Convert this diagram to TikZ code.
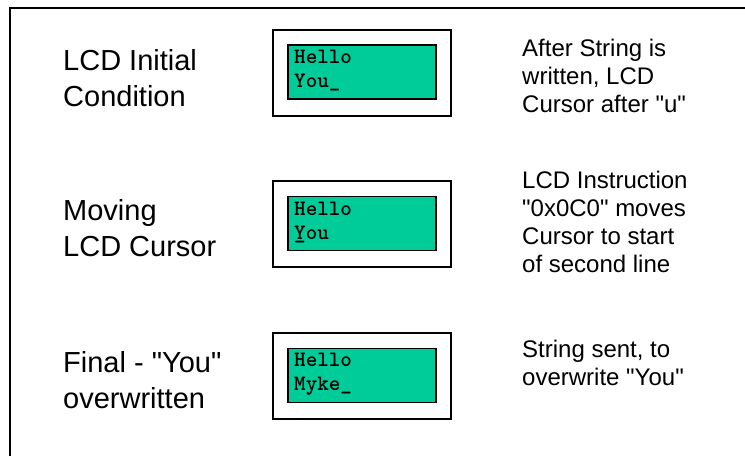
\documentclass[tikz,border=0pt]{standalone}
\usepackage{fontspec}
\setmainfont{Liberation Sans}[Ligatures=TeXOff]
\definecolor{lcdgreen}{HTML}{00CC99}
\tikzset{
  x=1pt, y=-1pt,
  outerbox/.style={draw=black, line width=1.5pt, fill=white, minimum width=178pt, minimum height=86pt, inner sep=0pt},
  lcdbox/.style={draw=black, line width=1.5pt, fill=lcdgreen, minimum width=148pt, minimum height=54pt, inner sep=0pt},
  lcdtext/.style={anchor=base west, inner sep=0pt, align=left, font=\ttfamily\bfseries\fontsize{22}{24}\selectfont},
  leftlabel/.style={anchor=base west, inner sep=0pt, align=left, font=\fontsize{29}{36}\selectfont},
  rightlabel/.style={anchor=base west, inner sep=0pt, align=left, font=\fontsize{24}{28}\selectfont},
}
\begin{document}
\begin{tikzpicture}
\useasboundingbox (0,0) rectangle (745,456);
\fill[white] (0,0) rectangle (745,456);
\draw[line width=2pt] (10,456) -- (10,8) -- (745,8);

% row 1
\node[outerbox] (o1) at (362,73) {};
\node[lcdbox] (g1) at (362,72) {};
\node[lcdtext] (t1) at (294,87) {Hello\\You\_};
\node[leftlabel] (l1) at (63,106) {LCD Initial\\Condition};
\node[rightlabel] (r1) at (522,112) {After String is\\written, LCD\\Cursor after "u"};

% row 2
\node[outerbox] (o2) at (362,224) {};
\node[lcdbox] (g2) at (362,223.5) {};
\node[lcdtext] (t2) at (294,239) {Hello\\\rlap{\_}You};
\node[leftlabel] (l2) at (63,256) {Moving\\LCD Cursor};
\node[rightlabel] (r2) at (522,272) {LCD Instruction\\"0x0C0" moves\\Cursor to start\\of second line};

% row 3
\node[outerbox] (o3) at (362,376) {};
\node[lcdbox] (g3) at (362,375.5) {};
\node[lcdtext] (t3) at (294,390) {Hello\\Myke\_};
\node[leftlabel] (l3) at (63,408) {Final - "You"\\overwritten};
\node[rightlabel] (r3) at (522,385) {String sent, to\\overwrite "You"};
\end{tikzpicture}
\end{document}
